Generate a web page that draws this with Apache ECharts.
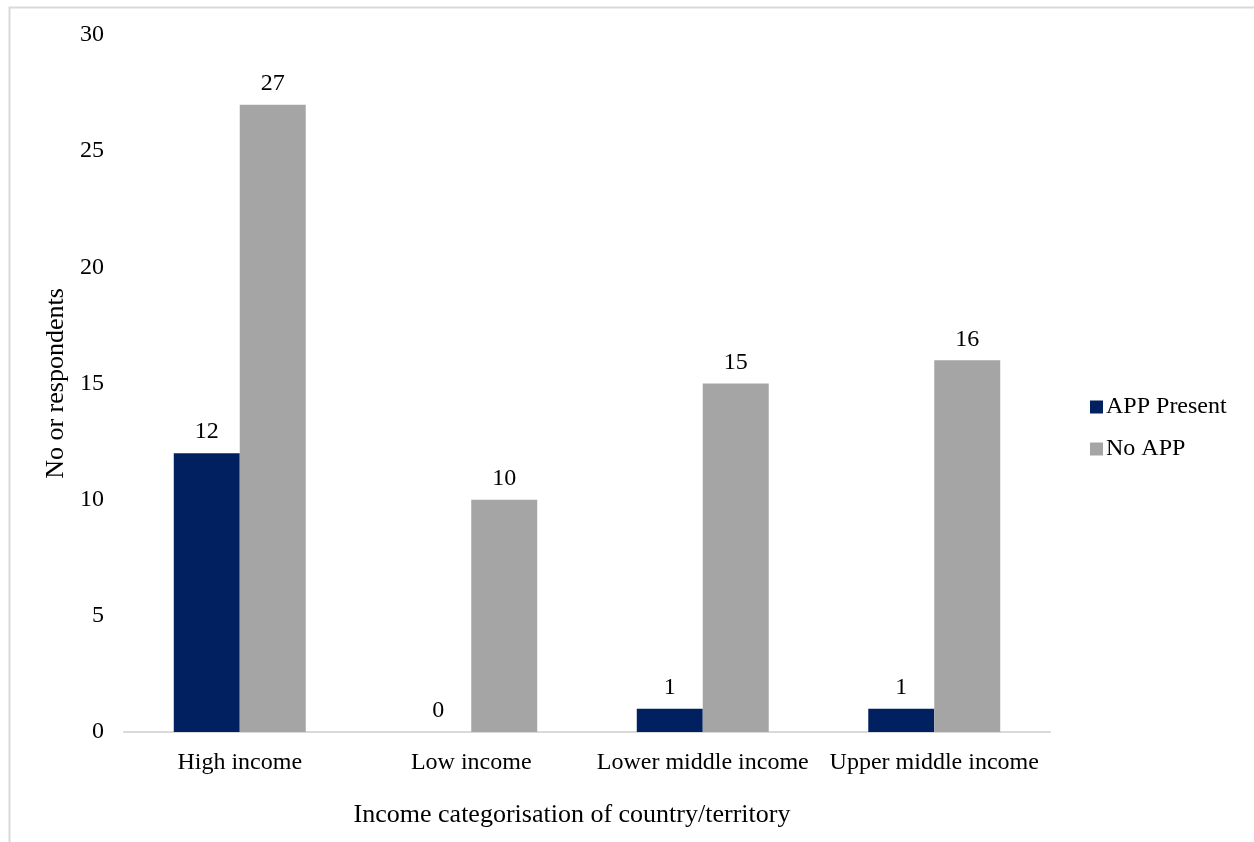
<!DOCTYPE html>
<html>
<head>
<meta charset="utf-8">
<script src="https://cdn.jsdelivr.net/npm/echarts@6/dist/echarts.min.js"></script>
<style>
html,body{margin:0;padding:0;background:#fff;}
#chart{width:1254px;height:842px;}
</style>
</head>
<body>
<div id="chart"></div>
<script>
var categories = ['High income', 'Low income', 'Lower middle income', 'Upper middle income'];
var appPresent = [12, 0, 1, 1];
var noApp = [27, 10, 15, 16];
var seriesNames = ['APP Present', 'No APP'];
var xTitle = 'Income categorisation of country/territory';
var yTitle = 'No or respondents';

var FONT = '"Liberation Serif", "Times New Roman", serif';
var chart = echarts.init(document.getElementById('chart'), null, {renderer: 'canvas'});
var labelStyle = {show: true, position: 'top', distance: 9, color: '#000', fontFamily: FONT, fontSize: 24};
chart.setOption({
  animation: false,
  backgroundColor: '#fff',
  textStyle: {fontFamily: FONT},
  graphic: [{
    type: 'rect', left: 7, top: 5, shape: {width: 1270, height: 860},
    style: {fill: 'none', stroke: '#d9d9d9', lineWidth: 2}, silent: true
  }],
  grid: {left: 124, right: 204, top: 35, bottom: 110, containLabel: false},
  legend: {
    orient: 'vertical', left: 1085, top: 390, itemGap: 18,
    itemWidth: 13, itemHeight: 13, icon: 'rect',
    textStyle: {fontFamily: FONT, fontSize: 24, color: '#000', padding: [0, 0, 0, -2]},
    data: seriesNames
  },
  xAxis: {
    type: 'category', data: categories,
    axisLine: {show: true, lineStyle: {color: '#d9d9d9', width: 2}},
    axisTick: {show: false},
    axisLabel: {color: '#000', fontFamily: FONT, fontSize: 24, margin: 19, interval: 0},
    name: xTitle, nameLocation: 'middle', nameGap: 70,
    nameTextStyle: {color: '#000', fontFamily: FONT, fontSize: 26, padding: [0, 30, 0, 0]}
  },
  yAxis: {
    type: 'value', min: 0, max: 30, interval: 5,
    axisLine: {show: false}, axisTick: {show: false},
    splitLine: {show: false},
    axisLabel: {color: '#000', fontFamily: FONT, fontSize: 24, margin: 20, padding: [4, 0, 0, 0]},
    name: yTitle, nameLocation: 'middle', nameGap: 52, nameRotate: 90,
    nameTextStyle: {color: '#000', fontFamily: FONT, fontSize: 26}
  },
  series: [
    {name: seriesNames[0], type: 'bar', data: appPresent, barWidth: '28.5%', barGap: '0%',
     itemStyle: {color: '#002060'}, label: labelStyle},
    {name: seriesNames[1], type: 'bar', data: noApp, barWidth: '28.5%', barGap: '0%',
     itemStyle: {color: '#a5a5a5'}, label: labelStyle}
  ]
});
</script>
</body>
</html>
